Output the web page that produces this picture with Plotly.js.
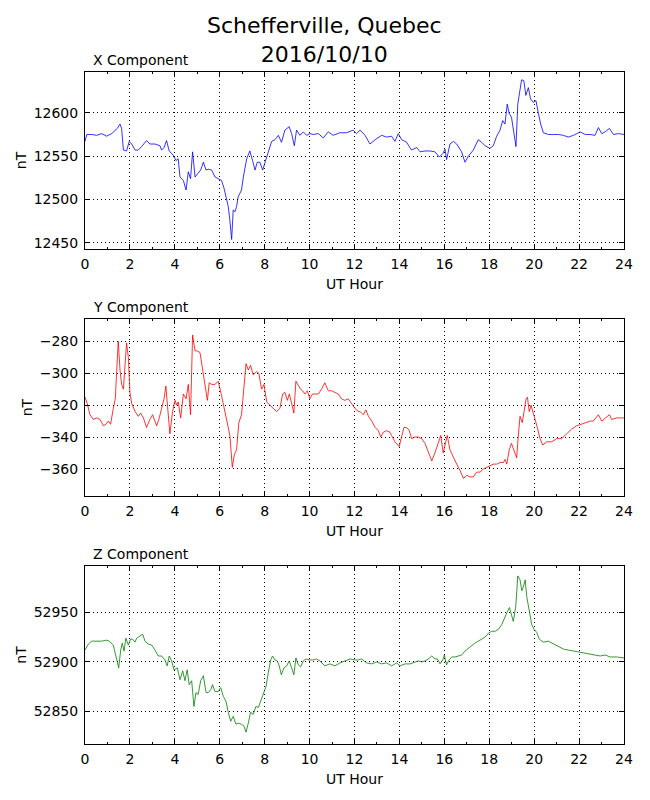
<!DOCTYPE html>
<html>
<head>
<meta charset="utf-8">
<script src="https://cdn.plot.ly/plotly-3.0.1.min.js"></script>
<style>
  html, body { margin: 0; padding: 0; background: #fff; }
  #chart { width: 650px; height: 800px; }
</style>
</head>
<body>
<div id="chart"></div>
<script>
// values (UT hour, nT)
const xHours = [0.00,0.08,0.30,0.52,0.74,0.96,1.19,1.34,1.44,1.56,1.63,1.71,1.85,1.97,2.08,2.23,2.37,2.52,2.74,2.89,3.12,3.34,3.41,3.52,3.63,3.75,3.93,4.05,4.15,4.23,4.38,4.50,4.60,4.70,4.79,4.90,5.04,5.15,5.27,5.39,5.49,5.64,5.79,5.93,6.08,6.19,6.28,6.38,6.45,6.53,6.60,6.68,6.75,6.82,6.97,7.05,7.20,7.34,7.46,7.57,7.67,7.79,7.91,8.01,8.16,8.31,8.46,8.61,8.75,8.90,9.09,9.20,9.32,9.42,9.57,9.72,9.87,10.01,10.16,10.39,10.61,10.83,11.05,11.35,11.65,11.94,12.09,12.25,12.47,12.69,12.92,13.21,13.43,13.65,13.80,13.95,14.10,14.32,14.54,14.77,14.92,15.14,15.36,15.58,15.78,15.93,16.03,16.10,16.25,16.40,16.55,16.77,16.92,17.07,17.29,17.51,17.66,17.81,18.03,18.18,18.33,18.48,18.60,18.70,18.80,18.89,18.99,19.10,19.19,19.27,19.37,19.44,19.54,19.63,19.74,19.84,19.96,20.08,20.19,20.29,20.41,20.63,20.86,21.08,21.30,21.52,21.75,22.05,22.27,22.49,22.71,22.86,23.01,23.16,23.35,23.53,23.75,24.00];
const xValues = [12567,12575,12575,12574,12576,12573,12576,12580,12582,12587,12582,12557,12556,12567,12564,12557,12557,12561,12568,12564,12564,12562,12557,12560,12568,12556,12551,12545,12547,12526,12522,12511,12532,12524,12555,12526,12530,12534,12543,12534,12535,12534,12526,12524,12522,12513,12503,12492,12476,12454,12488,12486,12492,12503,12511,12526,12547,12556,12545,12534,12543,12543,12534,12543,12556,12567,12569,12574,12566,12580,12584,12576,12562,12580,12574,12578,12574,12576,12575,12576,12571,12578,12574,12577,12577,12580,12576,12580,12574,12564,12569,12574,12572,12573,12567,12576,12569,12566,12557,12560,12555,12556,12556,12555,12549,12553,12558,12546,12564,12567,12564,12555,12543,12550,12557,12569,12566,12562,12559,12562,12573,12580,12591,12587,12610,12599,12595,12574,12561,12610,12624,12638,12637,12620,12629,12616,12612,12614,12599,12587,12577,12575,12575,12575,12574,12572,12574,12578,12575,12575,12574,12583,12576,12578,12582,12575,12576,12575];

const yHours = [0.00,0.10,0.22,0.37,0.52,0.67,0.82,0.93,1.04,1.14,1.26,1.35,1.41,1.48,1.56,1.63,1.71,1.78,1.85,1.93,2.00,2.08,2.23,2.37,2.48,2.60,2.74,2.89,3.01,3.19,3.31,3.41,3.52,3.60,3.71,3.78,3.90,4.01,4.08,4.15,4.26,4.38,4.50,4.60,4.70,4.79,4.90,5.00,5.12,5.24,5.34,5.45,5.53,5.64,5.79,5.93,6.08,6.23,6.35,6.45,6.56,6.65,6.75,6.85,6.97,7.08,7.17,7.27,7.37,7.49,7.64,7.74,7.86,7.97,8.09,8.23,8.38,8.53,8.68,8.80,8.90,9.01,9.10,9.20,9.30,9.39,9.50,9.60,9.69,9.79,9.90,10.01,10.13,10.24,10.39,10.53,10.68,10.83,10.98,11.13,11.28,11.42,11.57,11.72,11.87,12.02,12.17,12.25,12.39,12.51,12.62,12.77,12.92,13.06,13.17,13.28,13.43,13.58,13.65,13.80,13.99,14.10,14.20,14.32,14.44,14.54,14.69,14.84,14.99,15.14,15.29,15.44,15.58,15.73,15.84,15.95,16.03,16.13,16.25,16.40,16.55,16.70,16.85,17.00,17.14,17.29,17.44,17.59,17.74,17.89,18.03,18.18,18.33,18.48,18.63,18.70,18.78,18.89,18.99,19.10,19.22,19.29,19.37,19.47,19.55,19.64,19.70,19.78,19.86,19.93,20.04,20.14,20.26,20.38,20.56,20.78,21.00,21.22,21.45,21.67,21.89,22.12,22.34,22.49,22.63,22.86,23.01,23.16,23.35,23.45,23.67,23.90,24.00];
const yValues = [-315,-319,-326,-329,-328,-329,-333,-332,-330,-332,-322,-316,-299,-280,-298,-307,-310,-295,-281,-290,-312,-319,-324,-327,-325,-328,-334,-329,-326,-333,-328,-322,-316,-308,-324,-338,-324,-317,-320,-318,-328,-313,-316,-307,-326,-276,-286,-286,-287,-298,-307,-317,-306,-307,-307,-305,-314,-324,-333,-339,-359,-351,-348,-331,-326,-308,-294,-298,-295,-301,-299,-300,-310,-307,-318,-320,-322,-324,-322,-313,-312,-317,-313,-319,-325,-305,-308,-310,-311,-313,-311,-316,-313,-313,-313,-310,-306,-311,-311,-312,-313,-316,-317,-316,-319,-322,-324,-324,-326,-323,-327,-330,-334,-336,-340,-337,-336,-337,-339,-343,-346,-339,-334,-334,-336,-341,-340,-340,-341,-344,-349,-355,-350,-344,-339,-350,-344,-339,-348,-352,-357,-361,-366,-364,-365,-365,-362,-362,-360,-359,-358,-357,-357,-356,-356,-354,-357,-348,-344,-348,-353,-340,-327,-331,-325,-316,-315,-324,-320,-324,-329,-334,-341,-345,-343,-343,-341,-341,-338,-335,-333,-332,-331,-330,-330,-326,-330,-328,-326,-329,-328,-328,-328];

const zHours = [0.00,0.15,0.30,0.52,0.74,0.96,1.08,1.26,1.38,1.50,1.59,1.66,1.74,1.82,1.93,2.03,2.12,2.23,2.30,2.42,2.57,2.67,2.82,2.97,3.12,3.26,3.41,3.56,3.66,3.75,3.86,3.96,4.11,4.23,4.35,4.45,4.55,4.64,4.75,4.85,4.94,5.04,5.15,5.27,5.39,5.49,5.60,5.68,5.79,5.93,6.04,6.16,6.28,6.38,6.49,6.60,6.72,6.82,6.97,7.08,7.17,7.27,7.37,7.49,7.61,7.72,7.82,7.94,8.06,8.16,8.27,8.35,8.46,8.56,8.65,8.74,8.86,8.98,9.09,9.20,9.30,9.39,9.50,9.60,9.72,9.84,9.98,10.13,10.31,10.46,10.68,10.90,11.13,11.35,11.57,11.80,12.02,12.17,12.32,12.54,12.77,12.99,13.21,13.43,13.65,13.88,14.03,14.25,14.47,14.69,14.84,14.99,15.14,15.29,15.44,15.58,15.69,15.81,15.93,16.00,16.10,16.21,16.33,16.48,16.63,16.77,16.92,17.07,17.22,17.36,17.51,17.66,17.81,17.96,18.11,18.26,18.41,18.56,18.70,18.81,18.90,18.95,19.07,19.18,19.27,19.37,19.45,19.52,19.60,19.67,19.77,19.89,19.99,20.11,20.23,20.41,20.63,20.86,21.08,21.30,21.52,21.75,22.05,22.27,22.49,22.71,22.94,23.16,23.38,23.67,24.00];
const zValues = [52912,52918,52921,52921,52921,52922,52921,52917,52906,52894,52912,52919,52911,52924,52917,52923,52923,52920,52924,52926,52928,52921,52918,52917,52912,52906,52906,52902,52896,52906,52901,52892,52894,52882,52891,52881,52892,52877,52881,52855,52869,52867,52881,52886,52869,52869,52872,52877,52870,52870,52874,52865,52860,52849,52840,52845,52837,52838,52837,52835,52829,52838,52849,52847,52855,52854,52860,52869,52875,52889,52902,52906,52902,52901,52896,52887,52894,52896,52901,52894,52887,52904,52897,52895,52901,52903,52902,52902,52903,52901,52896,52898,52896,52899,52901,52903,52902,52902,52903,52899,52898,52900,52898,52899,52896,52899,52896,52898,52898,52900,52901,52900,52901,52903,52906,52903,52903,52898,52902,52907,52897,52902,52905,52905,52906,52907,52911,52914,52917,52919,52921,52923,52925,52929,52931,52931,52933,52938,52946,52951,52955,52950,52941,52956,52987,52983,52972,52976,52983,52966,52953,52938,52933,52930,52923,52920,52921,52918,52915,52913,52912,52911,52910,52909,52908,52907,52906,52907,52905,52905,52904];

const hourTicks = [0,2,4,6,8,10,12,14,16,18,20,22,24];

const font = { family: "DejaVu Sans, sans-serif", size: 14, color: "#000" };

function xAxis(anchor) {
    return {
        anchor: anchor,
        range: [0, 24],
        tickvals: hourTicks,
        ticks: "inside",
        ticklen: 5,
        tickcolor: "#000",
        ticklabelstandoff: 2,
        minor: { dtick: 1, ticks: "inside", ticklen: 2, tickcolor: "#000", showgrid: false },
        showline: true,
        linecolor: "#000",
        linewidth: 1,
        mirror: "allticks",
        showgrid: true,
        gridcolor: "#000",
        griddash: "1px,3px",
        gridwidth: 1,
        zeroline: false,
        tickfont: font,
        title: { text: "UT Hour", font: font, standoff: 8 }
    };
}

function yAxis(anchor, domain, range, dtick) {
    return {
        anchor: anchor,
        domain: domain,
        range: range,
        dtick: dtick,
        tickformat: "d",
        ticks: "inside",
        ticklen: 5,
        tickcolor: "#000",
        ticklabelstandoff: 3,
        showline: true,
        linecolor: "#000",
        linewidth: 1,
        mirror: "allticks",
        showgrid: true,
        gridcolor: "#000",
        griddash: "1px,3px",
        gridwidth: 1,
        zeroline: false,
        tickfont: font,
        title: { text: "nT", font: font, standoff: 3 }
    };
}

const traces = [
    { x: xHours, y: xValues, xaxis: "x", yaxis: "y", type: "scatter", mode: "lines",
      line: { color: "#0000ff", width: 0.8 } },
    { x: yHours, y: yValues, xaxis: "x2", yaxis: "y2", type: "scatter", mode: "lines",
      line: { color: "#ff0000", width: 0.8 } },
    { x: zHours, y: zValues, xaxis: "x3", yaxis: "y3", type: "scatter", mode: "lines",
      line: { color: "#008000", width: 0.8 } }
];

function panelTitle(text, xref, yref) {
    return {
        text: text, xref: xref, yref: yref, x: 0.011, y: 1,
        xanchor: "left", yanchor: "bottom", yshift: 2,
        showarrow: false, font: font
    };
}

const layout = {
    width: 650,
    height: 800,
    paper_bgcolor: "#fff",
    plot_bgcolor: "#fff",
    showlegend: false,
    margin: { l: 85, r: 26, t: 72, b: 56 },
    font: font,
    xaxis: xAxis("y"),
    yaxis: yAxis("x", [0.7366, 1], [12443, 12647], 50),
    xaxis2: xAxis("y2"),
    yaxis2: yAxis("x2", [0.369, 0.6324], [-377, -266], 20),
    xaxis3: xAxis("y3"),
    yaxis3: yAxis("x3", [0, 0.2649], [52817, 52997], 50),
    annotations: [
        {
            text: "Schefferville, Quebec<br>2016/10/10",
            xref: "paper", yref: "paper", x: 0.445, y: 1.0476,
            xanchor: "center", yanchor: "middle", showarrow: false,
            font: { family: "DejaVu Sans, sans-serif", size: 22, color: "#000" }
        },
        panelTitle("X Component", "x domain", "y domain"),
        panelTitle("Y Component", "x2 domain", "y2 domain"),
        panelTitle("Z Component", "x3 domain", "y3 domain")
    ]
};

Plotly.newPlot("chart", traces, layout, { displayModeBar: false, staticPlot: true });
</script>
</body>
</html>
